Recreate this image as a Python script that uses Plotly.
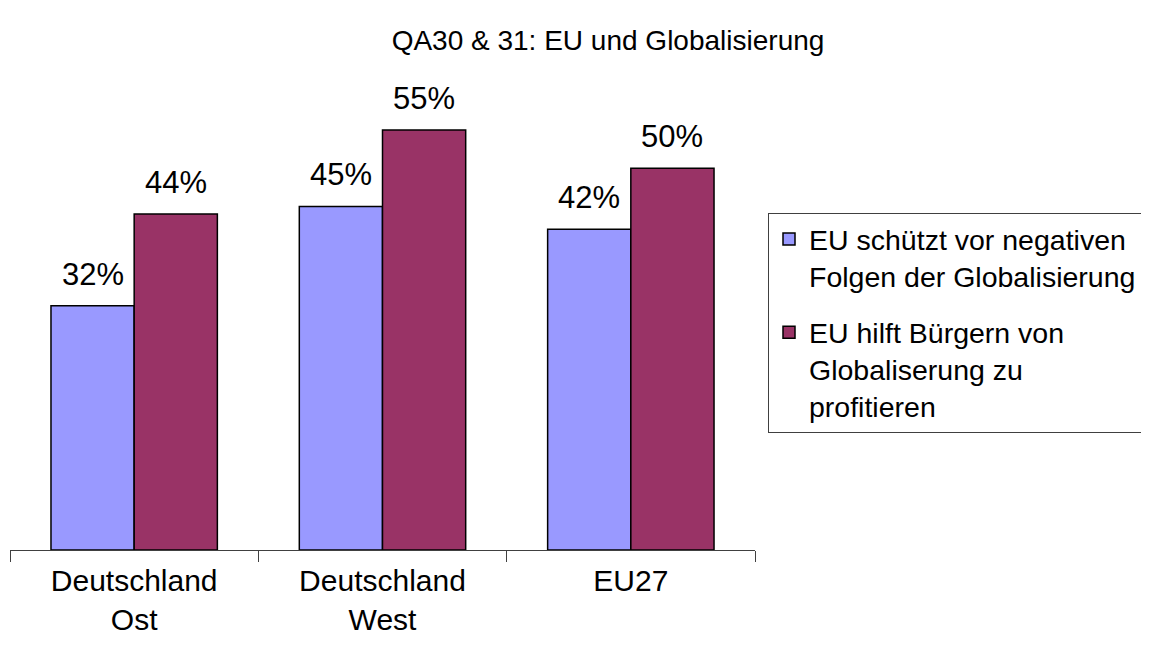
import plotly.graph_objects as go

categories = ["Deutschland<br>Ost", "Deutschland<br>West", "EU27"]
series_names = ["EU schützt vor negativen<br>Folgen der Globalisierung",
                "EU hilft Bürgern von<br>Globaliserung zu<br>profitieren"]
schuetzt = [32, 45, 42]
hilft = [44, 55, 50]
colors = ["#9999FF", "#993366"]
title_text = "QA30 & 31: EU und Globalisierung"

OFF = 8  # default page body margin
W, H = 1149 - OFF, 648 - OFF
L, R, T, B = 10 - OFF, 1149 - 755, 80 - OFF, 648 - 550
BARGAP = 0.33
plot_w = W - L - R
plot_h = H - T - B
px_per_pct = 7.636
bar_px = plot_w / len(categories) * (1 - BARGAP) / 2
FONT = "Liberation Sans, Arial"

fig = go.Figure()
all_series = [schuetzt, hilft]
for i, (name, vals, col) in enumerate(zip(series_names, all_series, colors)):
    fig.add_trace(go.Bar(
        x=categories, y=vals, name=name, legendgroup=f"g{i}",
        marker=dict(color=col, line=dict(color="black", width=1.5)),
        cliponaxis=False,
    ))
    for c, v in zip(categories, vals):
        fig.add_annotation(x=c, y=v, xref="x", yref="y", text=f"{v}%",
                           showarrow=False, xanchor="center", yanchor="bottom",
                           xshift=(i - 0.5) * bar_px, yshift=12,
                           font=dict(size=31, color="black", family=FONT))

fig.update_layout(
    width=W, height=H,
    margin=dict(l=L, r=R, t=T, b=B),
    paper_bgcolor="white", plot_bgcolor="white",
    barmode="group", bargap=BARGAP, bargroupgap=0,
    font=dict(family=FONT, color="black"),
    title=dict(text=title_text, x=(608 - OFF - L) / plot_w, xref="paper", xanchor="center",
               y=1 - (40 - OFF) / H, yref="container", yanchor="middle",
               font=dict(size=28, color="black")),
    showlegend=True,
    legend=dict(x=(768 - OFF - L) / plot_w, y=(H - B - (213 - OFF)) / plot_h,
                xanchor="left", yanchor="top",
                bordercolor="#404040", borderwidth=1,
                font=dict(size=28.5, color="black"),
                tracegroupgap=16, valign="top",
                traceorder="grouped"),
)
fig.update_xaxes(showline=True, linecolor="#404040", linewidth=1,
                 ticks="outside", tickson="boundaries", ticklen=11, tickcolor="#404040",
                 ticklabelstandoff=4,
                 tickfont=dict(size=30, color="black"), showgrid=False)
fig.update_yaxes(range=[0, plot_h / px_per_pct], visible=False, showgrid=False)

fig.write_html("out.html")
